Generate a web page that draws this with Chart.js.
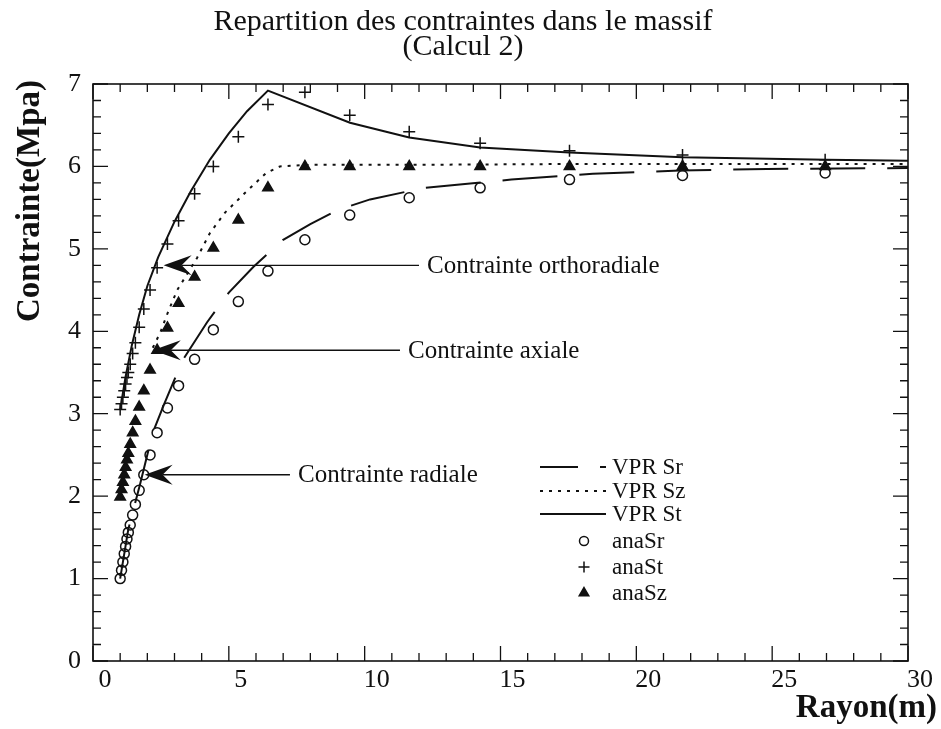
<!DOCTYPE html>
<html>
<head>
<meta charset="utf-8">
<script src="https://cdn.jsdelivr.net/npm/chart.js@4.4.1/dist/chart.umd.min.js"></script>
<style>
  html, body { margin: 0; background: #fff; }
  canvas { display: block; }
</style>
</head>
<body>
<canvas id="chart" width="941" height="729"></canvas>
<script>
// radii of the analytical solution (m) and the three stress components (MPa)
const rayon = [1.0, 1.05, 1.1, 1.15, 1.2, 1.25, 1.3, 1.37, 1.46, 1.56, 1.7, 1.87, 2.1, 2.36, 2.74, 3.15, 3.74, 4.43, 5.35, 6.44, 7.8, 9.45, 11.64, 14.25, 17.54, 21.7, 26.95];
const anaSr = [1.0, 1.1, 1.2, 1.3, 1.39, 1.48, 1.56, 1.65, 1.77, 1.9, 2.07, 2.26, 2.5, 2.77, 3.07, 3.34, 3.66, 4.02, 4.36, 4.73, 5.11, 5.41, 5.62, 5.74, 5.84, 5.89, 5.92];
const anaSt = [3.05, 3.12, 3.2, 3.28, 3.36, 3.44, 3.5, 3.6, 3.73, 3.86, 4.05, 4.27, 4.5, 4.77, 5.06, 5.34, 5.67, 6.0, 6.36, 6.75, 6.9, 6.62, 6.42, 6.28, 6.19, 6.14, 6.08];
const anaSz = [1.99, 2.08, 2.17, 2.26, 2.35, 2.44, 2.52, 2.63, 2.77, 2.91, 3.08, 3.28, 3.53, 3.77, 4.04, 4.34, 4.66, 5.01, 5.35, 5.74, 6.0, 6.0, 6.0, 6.0, 6.0, 6.0, 6.0];

// VPR computed profiles
const vprSrR = [1.0, 1.3, 1.73, 2.2, 2.6, 3.3, 4.2, 5.0, 5.9, 7.0, 8.0, 9.0, 10.2, 12.2, 15.4, 18.4, 21.6, 24.8, 30.0];
const vprSr = [1.0, 1.6, 2.14, 2.77, 3.1, 3.65, 4.11, 4.47, 4.78, 5.11, 5.3, 5.47, 5.6, 5.74, 5.84, 5.91, 5.95, 5.97, 5.98];
const vprSzR = [2.2, 2.47, 2.77, 3.1, 3.83, 4.3, 4.86, 5.6, 6.37, 6.88, 8.0, 12.0, 18.0, 24.0, 30.0];
const vprSz = [3.8, 3.98, 4.24, 4.5, 4.89, 5.19, 5.44, 5.68, 5.92, 6.0, 6.02, 6.02, 6.03, 6.03, 6.03];
const vprStR = [1.0, 1.2, 1.43, 1.7, 2.0, 2.4, 3.0, 3.6, 4.3, 5.0, 5.67, 6.44, 9.46, 11.64, 14.25, 17.54, 21.7, 27.0, 30.0];
const vprSt = [3.05, 3.45, 3.83, 4.2, 4.55, 4.9, 5.33, 5.7, 6.08, 6.4, 6.67, 6.92, 6.53, 6.35, 6.23, 6.17, 6.11, 6.08, 6.07];

const xTicks = [0, 5, 10, 15, 20, 25, 30];
const yTicks = [0, 1, 2, 3, 4, 5, 6, 7];

// callouts: label, arrow tip (r, MPa), r where the leader line stops
const noteText = ['Contrainte orthoradiale', 'Contrainte axiale', 'Contrainte radiale'];
const noteTip = [[2.6, 4.8], [2.2, 3.77], [1.9, 2.26]];
const noteEnd = [12.0, 11.3, 7.25];

const ink = '#111';
const serif = '"Liberation Serif", "DejaVu Serif", serif';
const dashSr = [55, 22];
const dashSz = [3, 6];

const pts = (xs, ys) => xs.map((x, i) => ({ x, y: ys[i] }));

// full box with inward ticks on all four sides
const frame = {
  id: 'frame',
  beforeDatasetsDraw(chart) {
    const { ctx, chartArea: a, scales: { x, y } } = chart;
    ctx.save();
    ctx.strokeStyle = ink;
    ctx.lineWidth = 1.6;
    ctx.strokeRect(a.left, a.top, a.right - a.left, a.bottom - a.top);
    ctx.lineWidth = 1.3;
    ctx.beginPath();
    for (let v = 0; v <= 30; v++) {
      const px = x.getPixelForValue(v);
      const len = v % 5 === 0 ? 15 : 8;
      ctx.moveTo(px, a.bottom); ctx.lineTo(px, a.bottom - len);
      ctx.moveTo(px, a.top); ctx.lineTo(px, a.top + len);
    }
    for (let k = 0; k <= 35; k++) {
      const py = y.getPixelForValue(k / 5);
      const len = k % 5 === 0 ? 15 : 8;
      ctx.moveTo(a.left, py); ctx.lineTo(a.left + len, py);
      ctx.moveTo(a.right, py); ctx.lineTo(a.right - len, py);
    }
    ctx.stroke();
    ctx.restore();
  }
};

function arrowHead(ctx, tx, ty) {
  ctx.beginPath();
  ctx.moveTo(tx, ty);
  ctx.lineTo(tx + 28, ty - 10);
  ctx.lineTo(tx + 18, ty);
  ctx.lineTo(tx + 28, ty + 10);
  ctx.closePath();
  ctx.fill();
}

const callouts = {
  id: 'callouts',
  afterDatasetsDraw(chart) {
    const { ctx, scales: { x, y } } = chart;
    ctx.save();
    ctx.fillStyle = ink;
    ctx.strokeStyle = ink;
    ctx.lineWidth = 1.4;
    ctx.font = `25px ${serif}`;
    ctx.textBaseline = 'middle';
    noteText.forEach((t, i) => {
      const tx = x.getPixelForValue(noteTip[i][0]);
      const ty = y.getPixelForValue(noteTip[i][1]);
      const ex = x.getPixelForValue(noteEnd[i]);
      ctx.beginPath();
      ctx.moveTo(tx + 18, ty);
      ctx.lineTo(ex, ty);
      ctx.stroke();
      arrowHead(ctx, tx, ty);
      ctx.fillText(t, ex + 8, ty + 1);
    });
    ctx.restore();
  }
};

// legend, title and axis titles
const decor = {
  id: 'decor',
  afterDraw(chart) {
    const { ctx, chartArea: a } = chart;
    ctx.save();
    ctx.fillStyle = ink;
    ctx.strokeStyle = ink;

    ctx.font = `30px ${serif}`;
    ctx.textAlign = 'center';
    ctx.textBaseline = 'middle';
    ctx.fillText('Repartition des contraintes dans le massif', 463, 22);
    ctx.fillText('(Calcul 2)', 463, 47);

    ctx.font = `bold 33px ${serif}`;
    ctx.textAlign = 'right';
    ctx.fillText('Rayon(m)', 937, 708);
    ctx.save();
    ctx.translate(30, a.top - 4);
    ctx.rotate(-Math.PI / 2);
    ctx.textAlign = 'right';
    ctx.fillText('Contrainte(Mpa)', 0, 0);
    ctx.restore();

    const x0 = 540, x1 = 606, mx = 584, tx = 612;
    const rows = [467, 491, 514, 541, 567, 593];
    ctx.font = `23px ${serif}`;
    ctx.textAlign = 'left';
    ctx.lineWidth = 2;
    const lineStyles = [[dashSr, 17], [dashSz, 0], [[], 0]];
    ['VPR Sr', 'VPR Sz', 'VPR St'].forEach((t, i) => {
      ctx.setLineDash(lineStyles[i][0]);
      ctx.lineDashOffset = lineStyles[i][1];
      ctx.beginPath();
      ctx.moveTo(x0, rows[i]);
      ctx.lineTo(x1, rows[i]);
      ctx.stroke();
      ctx.fillText(t, tx, rows[i] + 1);
    });
    ctx.setLineDash([]);
    ctx.lineWidth = 1.5;
    ['anaSr', 'anaSt', 'anaSz'].forEach((t, i) => {
      const ds = chart.data.datasets[3 + i];
      ctx.fillStyle = ds.backgroundColor;
      Chart.helpers.drawPoint(ctx, {
        pointStyle: ds.pointStyle, radius: ds.pointRadius - 0.5, borderWidth: 1.5
      }, mx, rows[3 + i]);
      ctx.fillStyle = ink;
      ctx.fillText(t, tx, rows[3 + i] + 1);
    });
    ctx.restore();
  }
};

const lineDs = (label, xs, ys, dash) => ({
  label, data: pts(xs, ys), showLine: true, borderColor: ink, borderWidth: 2,
  borderDash: dash, pointRadius: 0, tension: 0
});
const markDs = (label, ys, style, fill, r) => ({
  label, data: pts(rayon, ys), showLine: false, pointStyle: style,
  pointRadius: r, pointHoverRadius: r, borderColor: ink, backgroundColor: fill,
  pointBorderWidth: 1.5
});

new Chart(document.getElementById('chart'), {
  type: 'scatter',
  data: {
    datasets: [
      lineDs('VPR Sr', vprSrR, vprSr, dashSr),
      lineDs('VPR Sz', vprSzR, vprSz, dashSz),
      lineDs('VPR St', vprStR, vprSt, []),
      markDs('anaSr', anaSr, 'circle', 'rgba(0,0,0,0)', 5),
      markDs('anaSt', anaSt, 'cross', 'rgba(0,0,0,0)', 6),
      markDs('anaSz', anaSz, 'triangle', ink, 6)
    ]
  },
  options: {
    responsive: false,
    animation: false,
    layout: { padding: { left: 0, right: 33, top: 84, bottom: 0 } },
    plugins: { legend: { display: false }, title: { display: false }, tooltip: { enabled: false } },
    scales: {
      x: {
        type: 'linear', min: 0, max: 30,
        afterFit: s => { s.height = 68; },
        afterBuildTicks: s => { s.ticks = xTicks.map(v => ({ value: v })); },
        grid: { display: false, drawTicks: false },
        border: { display: false },
        ticks: { color: ink, font: { family: serif, size: 26 }, padding: 4, labelOffset: 12, maxRotation: 0 }
      },
      y: {
        type: 'linear', min: 0, max: 7,
        afterFit: s => { s.width = 93; },
        afterBuildTicks: s => { s.ticks = yTicks.map(v => ({ value: v })); },
        grid: { display: false, drawTicks: false },
        border: { display: false },
        ticks: { color: ink, font: { family: serif, size: 26 }, padding: 12 }
      }
    }
  },
  plugins: [frame, callouts, decor]
});
</script>
</body>
</html>
